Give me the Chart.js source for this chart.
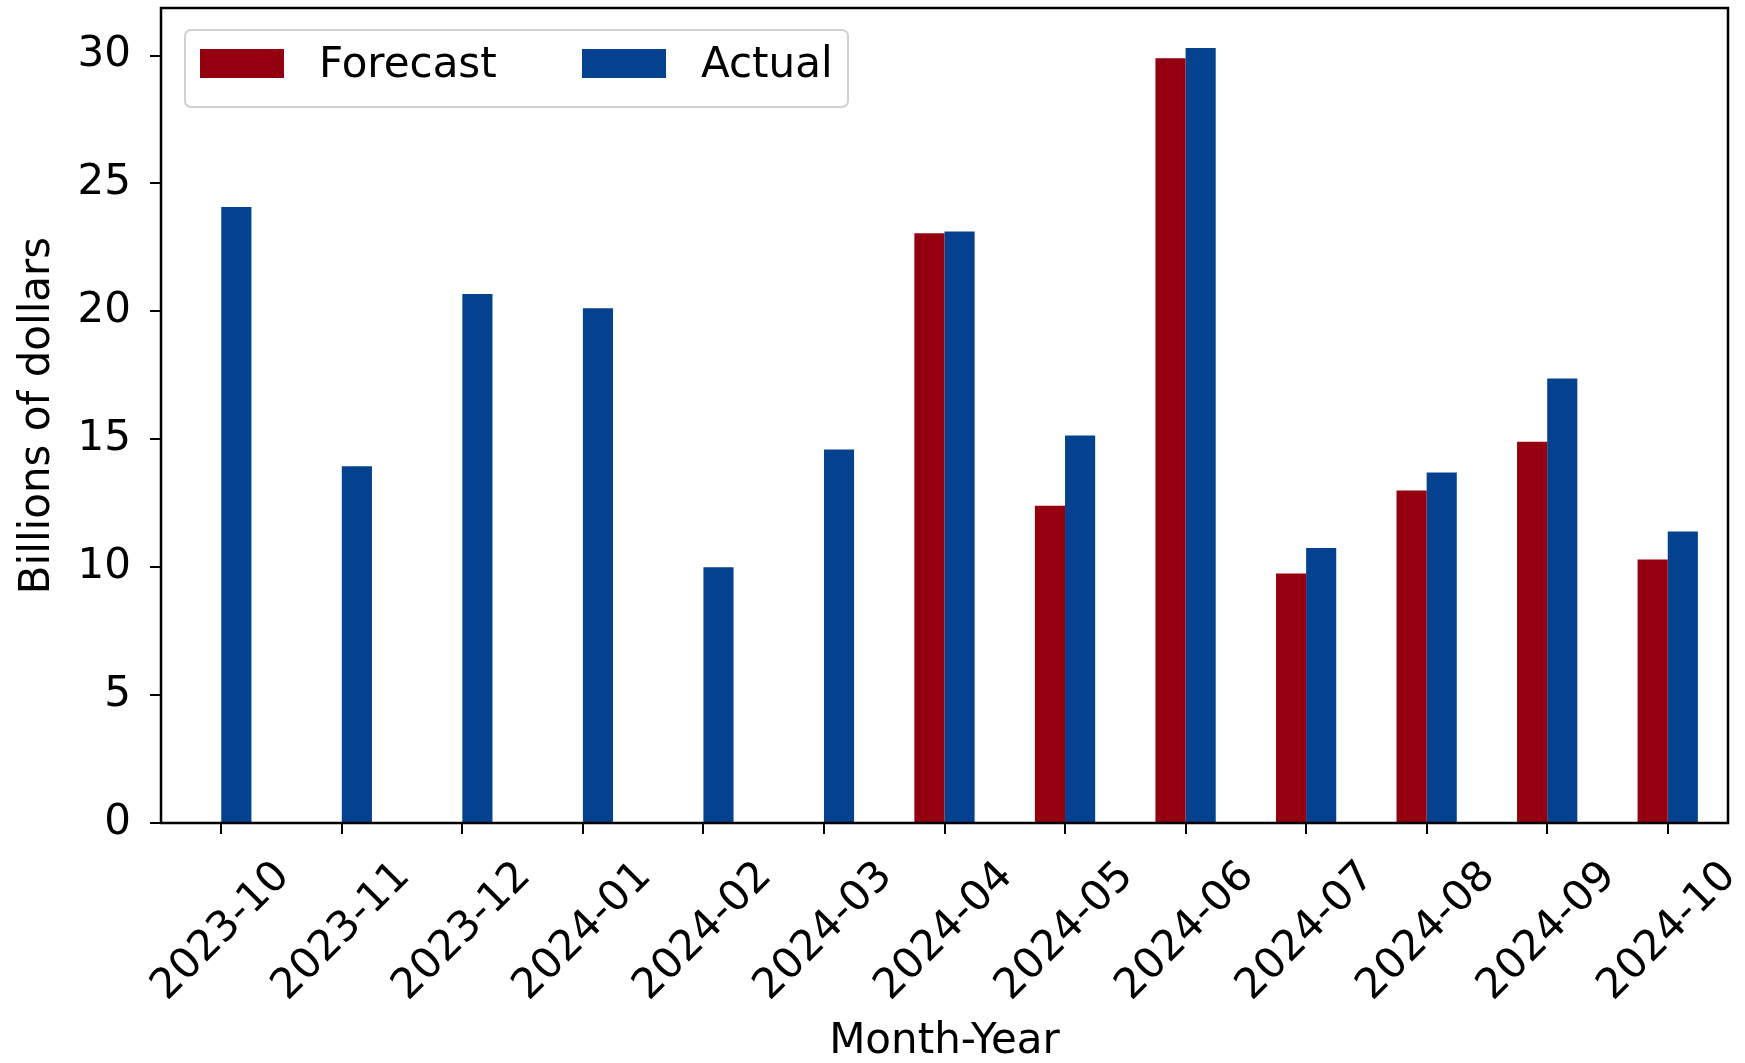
<!DOCTYPE html>
<html>
<head>
<meta charset="utf-8">
<script src="https://cdn.jsdelivr.net/npm/chart.js@4.4.1/dist/chart.umd.min.js"></script>
<style>
    html, body { margin: 0; padding: 0; background: #fff; }
    #wrap { width: 1745px; height: 1063px; }
</style>
</head>
<body>
<div id="wrap"><canvas id="grafico" width="1745" height="1063"></canvas></div>
<script>
// ====================================
// datos
// ====================================
const meses = ['2023-10', '2023-11', '2023-12', '2024-01', '2024-02', '2024-03', '2024-04',
    '2024-05', '2024-06', '2024-07', '2024-08', '2024-09', '2024-10'];
const pronostico = [null, null, null, null, null, null, 23.05, 12.4, 29.9, 9.75, 13.0, 14.9, 10.3];
const real = [24.08, 13.95, 20.68, 20.12, 10.0, 14.6, 23.12, 15.15, 30.3, 10.75, 13.7, 17.38, 11.4];
const ticksY = [0, 5, 10, 15, 20, 25, 30];
const maxY = 31.86;

const fuente = 'DejaVu Sans';
const tamLetra = 42;
const colorPronostico = '#94000f';
const colorReal = '#04418f';

// marco negro alrededor del area (como los spines de matplotlib)
const marco = {
    id: 'marco',
    afterDatasetsDraw(chart) {
        const { ctx, chartArea: a } = chart;
        ctx.save();
        ctx.strokeStyle = '#000';
        ctx.lineWidth = 2.5;
        ctx.strokeRect(a.left, a.top, a.right - a.left, a.bottom - a.top);
        ctx.restore();
    }
};

// leyenda dentro del grafico, arriba a la izquierda
const leyendaDentro = {
    id: 'leyendaDentro',
    afterDraw(chart) {
        const { ctx, chartArea } = chart;
        const x = chartArea.left + 24, y = chartArea.top + 22, w = 663, h = 77;
        ctx.save();
        ctx.fillStyle = 'rgba(255,255,255,0.8)';
        ctx.strokeStyle = '#d0d0d0';
        ctx.lineWidth = 2;
        ctx.beginPath();
        ctx.roundRect(x, y, w, h, 6);
        ctx.fill();
        ctx.stroke();
        ctx.font = tamLetra + 'px "' + fuente + '"';
        ctx.textBaseline = 'middle';
        chart.data.datasets.forEach((ds, i) => {
            const sx = x + 15 + i * 382;
            ctx.fillStyle = ds.backgroundColor;
            ctx.fillRect(sx, y + 19, 84, 29);
            ctx.fillStyle = '#000';
            ctx.fillText(ds.label, sx + 119, y + 36);
        });
        ctx.restore();
    }
};

new Chart(document.getElementById('grafico'), {
    type: 'bar',
    data: {
        labels: meses,
        datasets: [
            { label: 'Forecast', data: pronostico, backgroundColor: colorPronostico },
            { label: 'Actual', data: real, backgroundColor: colorReal }
        ]
    },
    options: {
        responsive: false,
        animation: false,
        devicePixelRatio: 1,
        categoryPercentage: 0.5,
        barPercentage: 1.0,
        layout: { padding: { top: 8, right: 17, left: 0, bottom: 0 } },
        plugins: {
            legend: { display: false },
            tooltip: { enabled: false }
        },
        scales: {
            x: {
                offset: true,
                grid: { offset: false, drawOnChartArea: false, drawTicks: true, tickLength: 11, color: '#000', lineWidth: 2 },
                border: { display: false },
                ticks: {
                    color: '#000',
                    font: { family: fuente, size: tamLetra },
                    minRotation: 45,
                    maxRotation: 45,
                    autoSkip: false,
                    padding: 18,
                    labelOffset: 62
                },
                title: {
                    display: true,
                    text: 'Month-Year',
                    color: '#000',
                    font: { family: fuente, size: tamLetra, lineHeight: 1 },
                    padding: 0
                },
                afterFit(scale) {
                    scale.height = 240;
                    scale.paddingLeft = 0;
                    scale.paddingRight = 0;
                }
            },
            y: {
                min: 0,
                max: maxY,
                grid: { drawOnChartArea: false, drawTicks: true, tickLength: 11, color: '#000', lineWidth: 2 },
                border: { display: false },
                ticks: {
                    color: '#000',
                    font: { family: fuente, size: tamLetra },
                    padding: 19
                },
                afterBuildTicks(scale) {
                    scale.ticks = ticksY.map(v => ({ value: v }));
                },
                title: {
                    display: true,
                    text: 'Billions of dollars',
                    color: '#000',
                    font: { family: fuente, size: tamLetra, lineHeight: 1 },
                    padding: { top: 17, bottom: 0 }
                },
                afterFit(scale) {
                    scale.width = 161;
                    scale.paddingTop = 0;
                    scale.paddingBottom = 0;
                }
            }
        }
    },
    plugins: [marco, leyendaDentro]
});
</script>
</body>
</html>
